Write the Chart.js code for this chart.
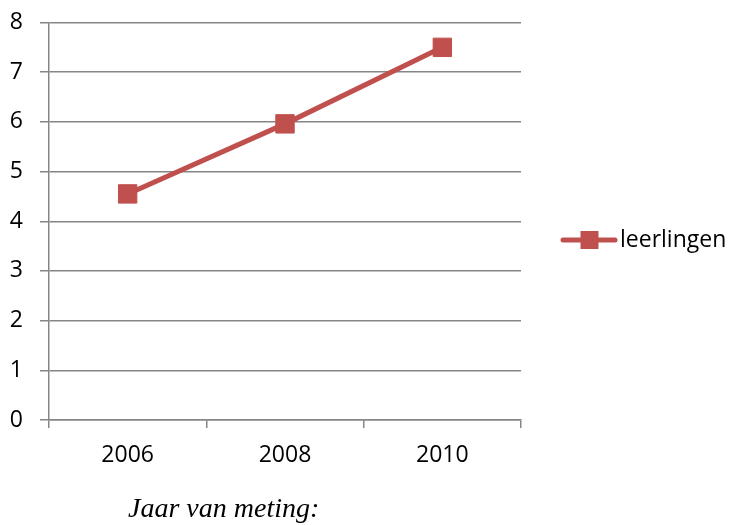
<!DOCTYPE html>
<html>
<head>
<meta charset="utf-8">
<script src="https://cdn.jsdelivr.net/npm/chart.js@4/dist/chart.umd.min.js"></script>
<style>
  html, body { margin: 0; padding: 0; background: #ffffff; }
  #wrap { width: 730px; height: 525px; }
</style>
</head>
<body>
<div id="wrap"><canvas id="c" width="730" height="525"></canvas></div>
<script>
const categories = ['2006', '2008', '2010'];
const leerlingen = [4.55, 5.96, 7.5];
const seriesName = 'leerlingen';
const xTitle = 'Jaar van meting:';
const yTicks = [0, 1, 2, 3, 4, 5, 6, 7, 8];

const RED = '#C0504D';
const GRID = '#868686';
const TICK_FONT = { family: '"Open Sans", sans-serif', size: 23 };

const extras = {
  id: 'extras',
  afterDraw(chart) {
    const ctx = chart.ctx;
    ctx.save();
    // x-axis title
    ctx.font = 'italic 28px "Liberation Serif", "Times New Roman", serif';
    ctx.fillStyle = '#000';
    ctx.textAlign = 'left';
    ctx.textBaseline = 'alphabetic';
    ctx.fillText(xTitle, 128, 517);
    // legend
    const ly = 240;
    ctx.strokeStyle = RED;
    ctx.lineWidth = 5;
    ctx.lineCap = 'round';
    ctx.beginPath();
    ctx.moveTo(563, ly);
    ctx.lineTo(615, ly);
    ctx.stroke();
    ctx.fillStyle = RED;
    ctx.fillRect(580.5, ly - 9, 18, 18);
    ctx.fillStyle = '#000';
    ctx.font = '23px "Open Sans", sans-serif';
    ctx.textBaseline = 'middle';
    ctx.fillText(seriesName, 620, ly);
    ctx.restore();
  }
};

new Chart(document.getElementById('c'), {
  type: 'line',
  data: {
    labels: categories,
    datasets: [{
      label: seriesName,
      data: leerlingen,
      borderColor: RED,
      backgroundColor: RED,
      borderWidth: 5,
      pointStyle: 'rect',
      pointRadius: 13,
      pointBorderWidth: 1,
      pointBorderColor: RED,
      pointBackgroundColor: RED,
      tension: 0,
      fill: false
    }]
  },
  options: {
    responsive: false,
    animation: false,
    devicePixelRatio: 1,
    layout: { padding: { top: 22.5, right: 209, bottom: 0, left: 0 } },
    plugins: {
      legend: { display: false },
      tooltip: { enabled: false },
      title: { display: false }
    },
    scales: {
      x: {
        type: 'category',
        offset: true,
        afterFit(scale) {
          scale.height = 105;
          scale.paddingLeft = 0; scale.paddingRight = 0;
        },
        grid: {
          offset: true,
          drawOnChartArea: false,
          drawTicks: true,
          tickLength: 8,
          color: GRID,
          lineWidth: 1.5
        },
        border: { display: true, color: GRID, width: 1.5 },
        ticks: { color: '#000', font: TICK_FONT, padding: 14, maxRotation: 0 }
      },
      y: {
        min: 0,
        max: 8,
        afterFit(scale) {
          scale.width = 49;
          scale.paddingTop = 0; scale.paddingBottom = 0;
        },
        afterBuildTicks(scale) { scale.ticks = yTicks.map(v => ({ value: v })); },
        grid: {
          color: GRID,
          lineWidth: 1.5,
          tickLength: 9,
          drawTicks: true
        },
        border: { display: true, color: GRID, width: 1.5 },
        ticks: { color: '#000', font: TICK_FONT, padding: 17, stepSize: 1 }
      }
    }
  },
  plugins: [extras]
});
</script>
</body>
</html>
